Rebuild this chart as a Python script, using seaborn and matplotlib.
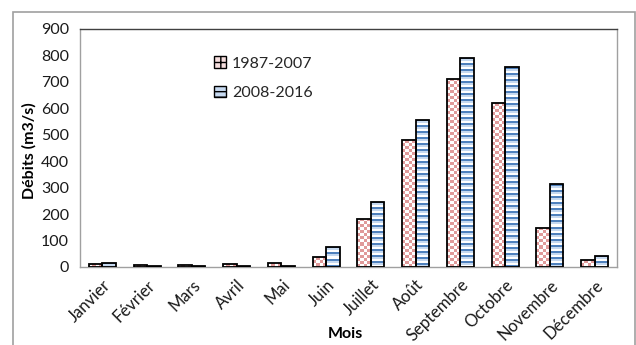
import numpy as np
import pandas as pd
import matplotlib
matplotlib.use("Agg")
import matplotlib.pyplot as plt
import seaborn as sns
from matplotlib.colors import ListedColormap
from matplotlib.patches import Patch, Rectangle

months = ["Janvier", "Février", "Mars", "Avril", "Mai", "Juin", "Juillet",
          "Août", "Septembre", "Octobre", "Novembre", "Décembre"]
series_names = ["1987-2007", "2008-2016"]
vals_1987_2007 = [13, 9, 8, 12, 15, 38, 183, 480, 711, 619, 149, 28]
vals_2008_2016 = [16, 5, 5, 5, 5, 76, 246, 556, 792, 756, 312, 43]
yticks = [0, 100, 200, 300, 400, 500, 600, 700, 800, 900]

df = pd.DataFrame({
    "Mois": months * 2,
    "Période": [series_names[0]] * 12 + [series_names[1]] * 12,
    "Débit": vals_1987_2007 + vals_2008_2016,
})

sns.set_theme(style="white")
plt.rcParams["font.family"] = ["Lato", "DejaVu Sans"]

FS = 11.5
W, H = 636, 345
fig = plt.figure(figsize=(W / 100, H / 100), dpi=100)
ax = fig.add_axes([80 / W, 1 - 267 / H, (617 - 80) / W, (267 - 29) / H])

pink = "#e09a9a"
dblue = "#4f81bd"
lblue = "#c6d9f0"

sns.barplot(data=df, x="Mois", y="Débit", hue="Période", order=months,
            hue_order=series_names, palette=[pink, dblue], width=0.6, gap=0,
            ax=ax, legend=False, saturation=1)

ax.set_ylim(0, 900)
ax.set_xlim(-0.5, 11.5)
fig.canvas.draw()

pink_cmap = ListedColormap(["white", pink])
blue_cmap = ListedColormap([dblue, lblue, "white"])
for ci, cont in enumerate(ax.containers):
    for bar in cont:
        x0, w, h = bar.get_x(), bar.get_width(), bar.get_height()
        bb = bar.get_window_extent()
        if ci == 0:
            nr = max(1, int(round(bb.height / 3)))
            nc = max(1, int(round(bb.width / 3)))
            pat = np.add.outer(np.arange(nr), np.arange(nc)) % 2
            cmap = pink_cmap
            vmax = 1
        else:
            nr = max(1, int(round(bb.height / 2)))
            pat = np.tile((np.arange(nr) % 3)[:, None], (1, 2))
            cmap = blue_cmap
            vmax = 2
        im = ax.imshow(pat, cmap=cmap, vmin=0, vmax=vmax,
                       extent=(x0, x0 + w, 0, h), aspect="auto",
                       interpolation="nearest", origin="upper", zorder=2)
        im.set_clip_path(bar)
        bar.set_facecolor("none")
        bar.set_edgecolor("black")
        bar.set_linewidth(1.3)
        bar.set_zorder(3)

ax.set_ylim(0, 900)
ax.set_xlim(-0.5, 11.5)
ax.set_aspect("auto")

ax.set_yticks(yticks)
ax.set_yticklabels([str(t) for t in yticks], fontsize=FS, color="#1a1a1a")
ax.set_xticks(range(12))
ax.set_xticklabels(months, rotation=45, ha="right", rotation_mode="anchor",
                   fontsize=12, color="#1a1a1a")
ax.set_xticks(np.arange(-0.5, 12, 1), minor=True)
ax.tick_params(axis="x", which="major", length=0, pad=7)
ax.tick_params(axis="x", which="minor", length=5, color="#a0a0a0", width=1, direction="out")
ax.tick_params(axis="y", length=5, color="#a0a0a0", width=1, direction="out", pad=3)

ax.set_ylabel("Débits (m3/s)", fontsize=FS, fontweight="bold", color="black")
ax.yaxis.set_label_coords((37 - 80) / 537, (267 - 151) / 238)
ax.set_xlabel("Mois", fontsize=FS, fontweight="bold", color="black")
ax.xaxis.set_label_coords((345 - 80) / 537, -(327 - 267) / 238)

for s in ["left", "bottom", "right"]:
    ax.spines[s].set_color("#a0a0a0")
    ax.spines[s].set_linewidth(1)
ax.spines["top"].set_color("#404040")
ax.spines["top"].set_linewidth(1)
for s in ax.spines.values():
    s.set_visible(True)

handles = [Patch(facecolor="#f6dede", edgecolor="black", hatch="++", label=series_names[0]),
           Patch(facecolor=lblue, edgecolor="black", hatch="---", label=series_names[1])]
fig.legend(handles=handles, loc="upper left", bbox_to_anchor=(208 / W, 1 - 50 / H),
           frameon=False, fontsize=FS, handlelength=0.7, handleheight=0.7,
           handletextpad=0.4, labelspacing=0.95, borderaxespad=0)

frame = Rectangle((13 / W, -0.05), (635 - 13) / W, 1 - 12 / H + 0.05,
                  transform=fig.transFigure, fill=False, edgecolor="#a0a0a0",
                  linewidth=1.2, zorder=-1)
fig.patches.append(frame)

fig.savefig("out.png", dpi=100)
